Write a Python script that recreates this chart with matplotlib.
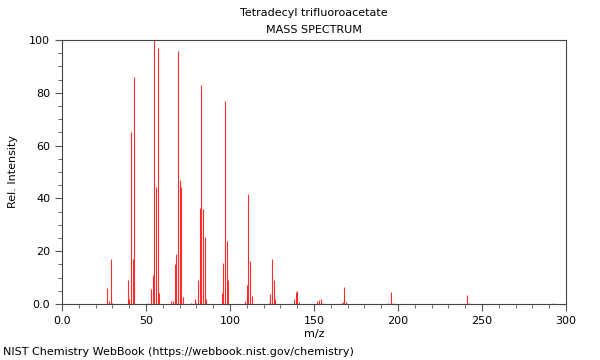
import matplotlib
matplotlib.use("Agg")
import matplotlib.pyplot as plt
from matplotlib.ticker import MultipleLocator, FuncFormatter

# m/z and relative intensity
mz = [27, 28, 29, 30, 39, 40, 41, 42, 43, 51, 53, 54, 55, 56, 57, 58,
      65, 66, 67, 68, 69, 70, 71, 72, 77, 79, 80, 81, 82, 83, 84, 85, 86,
      95, 96, 97, 98, 99, 109, 110, 111, 112, 113,
      123, 124, 125, 126, 127, 138, 139, 140, 141,
      152, 153, 154, 155, 166, 167, 168, 169, 180, 194, 196, 197,
      223, 241, 242, 292]
intensity = [6.0, 1.0, 17.0, 0.5, 9.0, 2.0, 65.0, 17.0, 86.0, 0.5, 5.5, 11.0, 100.0, 44.5, 97.0, 4.0,
             1.0, 1.3, 15.0, 19.0, 96.0, 47.0, 44.5, 2.5, 0.5, 1.8, 0.5, 9.0, 36.5, 83.0, 36.0, 25.5, 1.8,
             4.0, 15.7, 77.0, 24.0, 9.2, 1.3, 7.3, 41.5, 16.4, 2.9,
             0.5, 3.6, 17.2, 9.2, 1.9, 2.0, 4.6, 4.8, 0.8,
             1.1, 1.6, 1.8, 0.4, 0.4, 0.6, 6.5, 0.6, 0.1, 0.3, 4.6, 0.5,
             0.1, 3.5, 0.3, 0.4]

title = "Tetradecyl trifluoroacetate"
subtitle = "MASS SPECTRUM"
footer = "NIST Chemistry WebBook (https://webbook.nist.gov/chemistry)"

fig = plt.figure(figsize=(6, 3.6), dpi=100)
ax = fig.add_axes([62 / 600, 1 - 304 / 360, 504 / 600, 264 / 360])

ax.vlines(mz, 0, intensity, colors="#ff2a2a", linewidth=0.8)

ax.set_xlim(0, 300)
ax.set_ylim(0, 100)
ax.xaxis.set_major_locator(MultipleLocator(50))
ax.xaxis.set_minor_locator(MultipleLocator(10))
ax.yaxis.set_major_locator(MultipleLocator(20))
ax.yaxis.set_minor_locator(MultipleLocator(5))

fmt = FuncFormatter(lambda v, pos: "0.0" if v == 0 else f"{v:g}")
ax.xaxis.set_major_formatter(fmt)
ax.yaxis.set_major_formatter(fmt)

ax.tick_params(axis="both", which="major", labelsize=8, length=5, width=0.8, color="#555555")
ax.tick_params(axis="both", which="minor", length=3, width=0.6, color="#555555")
for s in ax.spines.values():
    s.set_color("#444444")
    s.set_linewidth(0.8)

ax.set_xlabel("m/z", fontsize=8, labelpad=2)
ax.set_ylabel("Rel. Intensity", fontsize=8)
ax.yaxis.set_label_coords(-0.088, 0.5)

fig.text(0.5 * (62 + 566) / 600, 1 - 13 / 360, title, ha="center", va="center", fontsize=8)
fig.text(0.5 * (62 + 566) / 600, 1 - 30 / 360, subtitle, ha="center", va="center", fontsize=8)
fig.text(3 / 600, 1 - 352 / 360, footer, ha="left", va="center", fontsize=8)

fig.savefig("out.png", dpi=100, facecolor="white")
